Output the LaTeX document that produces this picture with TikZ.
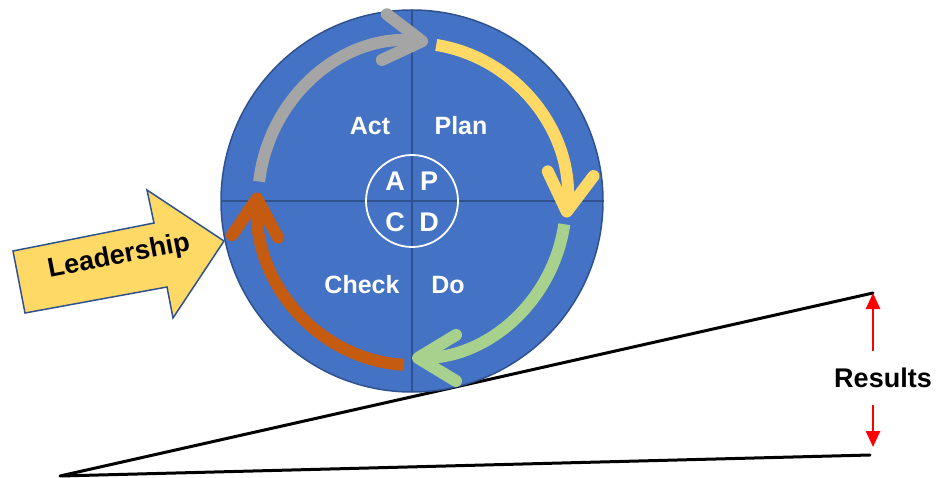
\documentclass[tikz,border=0pt]{standalone}
\usepackage{fontspec}
\setmainfont{Liberation Sans}
\usetikzlibrary{arrows.meta,calc}
\definecolor{wheelblue}{HTML}{4472C4}
\definecolor{rimblue}{HTML}{2F528F}
\definecolor{actgray}{HTML}{A5A5A5}
\definecolor{planyellow}{HTML}{FFD966}
\definecolor{dogreen}{HTML}{A9D18E}
\definecolor{checkorange}{HTML}{C55A11}
\tikzset{
  cyclearc/.style={line width=12pt, -{Straight Barb[length=38pt,width=46pt,round]}},
  wheeltext/.style={text=white, font=\bfseries\fontsize{25}{29}\selectfont},
  lettertext/.style={text=white, font=\bfseries\fontsize{27}{30}\selectfont},
  bigtext/.style={text=black, font=\bfseries\fontsize{27}{31}\selectfont},
  redarrow/.style={red, line width=2.5pt, -{Triangle[length=16pt,width=14pt]}},
  slope/.style={black, line width=3pt, line cap=round, line join=round},
}
\begin{document}
\begin{tikzpicture}[x=1pt,y=-1pt]
\useasboundingbox (0,0) rectangle (936,478);

% ramp under the wheel
\coordinate (apex) at (60,476);
\coordinate (rampTop) at (873,293);
\coordinate (rampBot) at (870,455);
\draw[slope] (rampTop) -- (apex) -- (rampBot);

% the wheel
\coordinate (c) at (412,201);
\filldraw[fill=wheelblue, draw=rimblue, line width=1.5pt] (c) circle[radius=191];
\draw[rimblue, line width=1.5pt] ($(c)+(0,-191)$) -- ($(c)+(0,191)$);
\draw[rimblue, line width=1.5pt] ($(c)+(-191,0)$) -- ($(c)+(191,0)$);

% hub
\draw[white, line width=1.8pt] (c) circle[radius=46];
\node[lettertext] (hA) at (395,181) {A};
\node[lettertext] (hP) at (429,181) {P};
\node[lettertext] (hC) at (395,222) {C};
\node[lettertext] (hD) at (429,222) {D};

% quadrant names
\node[wheeltext] (act) at (370,126) {Act};
\node[wheeltext] (plan) at (461,126) {Plan};
\node[wheeltext] (check) at (362,285) {Check};
\node[wheeltext] (do) at (448,285) {Do};

% cycle arrows
\draw[cyclearc, actgray] ($(c)+(-173:154 and 160)$) arc[start angle=-173, end angle=-84, x radius=154, y radius=160];
\draw[cyclearc, planyellow] ($(c)+(-81:155 and 158)$) arc[start angle=-81, end angle=6, x radius=155, y radius=158];
\draw[cyclearc, dogreen] ($(c)+(8.5:154 and 157)$) arc[start angle=8.5, end angle=90, x radius=154, y radius=157];
\draw[cyclearc, checkorange] ($(c)+(93:155 and 164)$) arc[start angle=93, end angle=183, x radius=155, y radius=164];

% leadership arrow
\filldraw[fill=planyellow, draw=rimblue, line width=1.5pt, line join=miter]
  (13,251) -- (154,223) -- (147,190) -- (224,241) -- (173,318) -- (167,287) -- (25,313) -- cycle;
\node[bigtext, rotate=11, inner sep=0pt] (lead) at (119,257) {Leadership};

% results
\node[bigtext] (res) at (883,378) {Results};
\coordinate (upStart) at (873,351);
\coordinate (dnStart) at (873,405);
\coordinate (dnEnd) at (873,447);
\draw[redarrow] (upStart) -- (rampTop);
\draw[redarrow] (dnStart) -- (dnEnd);
\end{tikzpicture}
\end{document}
